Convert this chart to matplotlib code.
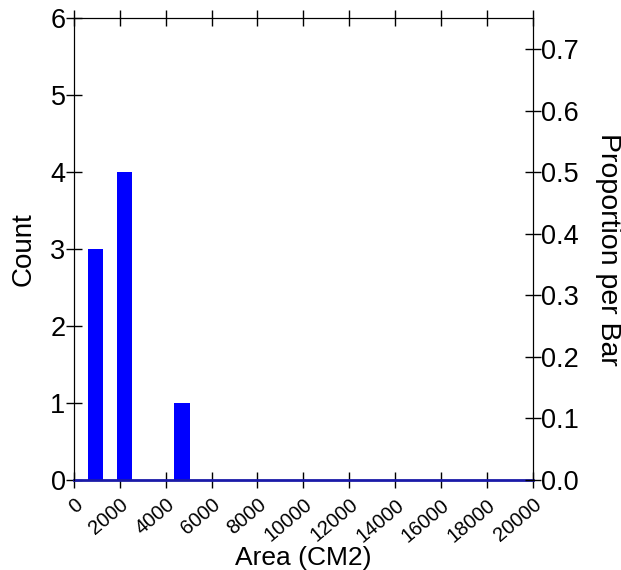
import matplotlib.pyplot as plt
import numpy as np

plt.rcParams['font.family'] = ['Liberation Sans', 'DejaVu Sans']

# histogram of area, bars
bar_centers = [950, 2200, 4700]
bar_counts = [3, 4, 1]
bar_width = 680
total = 8

x_ticks = list(range(0, 20001, 2000))
count_ticks = [0, 1, 2, 3, 4, 5, 6]
prop_ticks = [0.0, 0.1, 0.2, 0.3, 0.4, 0.5, 0.6, 0.7]

fig = plt.figure(figsize=(6.21, 5.70), dpi=100)
ax = fig.add_axes([0.119, 0.158, 0.739, 0.81])

ax.bar(bar_centers, bar_counts, width=bar_width, color='#0000ff', zorder=2)
# baseline drawn in blue across the whole range
ax.plot([0, 20000], [0, 0], color='#1a1aa8', lw=2, zorder=3, clip_on=False)

ax.set_xlim(0, 20000)
ax.set_ylim(0, 6)
ax.set_xticks(x_ticks)
ax.set_xticklabels([str(t) for t in x_ticks], rotation=40, ha='right',
                   rotation_mode='anchor', fontsize=14.5)
ax.set_yticks(count_ticks)
ax.set_yticklabels([str(t) for t in count_ticks], fontsize=19.5)
ax.tick_params(axis='both', direction='inout', length=12, width=1,
               top=True, pad=0)
ax.tick_params(axis='x', pad=5)
ax.set_xlabel('Area (CM2)', fontsize=19, labelpad=0)
ax.set_ylabel('Count', fontsize=20, labelpad=10)

for s in ['bottom', 'left', 'top', 'right']:
    ax.spines[s].set_color('black')
ax.spines['bottom'].set_visible(False)

ax2 = ax.twinx()
ax2.set_ylim(0, 6 / total)
ax2.set_yticks(prop_ticks)
ax2.set_yticklabels(['%.1f' % t for t in prop_ticks], fontsize=19.5)
ax2.tick_params(axis='y', direction='inout', length=12, width=1, pad=0)
ax2.set_ylabel('Proportion per Bar', fontsize=20.5, rotation=-90, labelpad=30)
ax2.spines['bottom'].set_visible(False)

fig.savefig('out.png', dpi=100)
